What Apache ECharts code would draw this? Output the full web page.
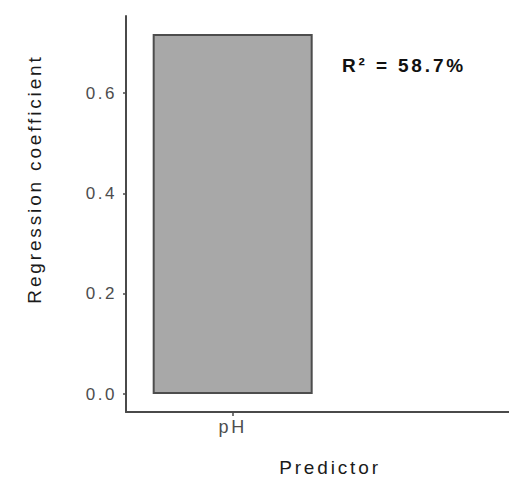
<!DOCTYPE html>
<html>
<head>
<meta charset="utf-8">
<script src="https://cdn.jsdelivr.net/npm/echarts@6/dist/echarts.min.js"></script>
<style>
  html, body { margin: 0; padding: 0; background: #ffffff; overflow: hidden; }
  #chart { width: 509px; height: 483px; }
  /* slightly airy lettering, as in the printed figure */
  #chart text { letter-spacing: 0.15em; }
</style>
</head>
<body>
<div id="chart"></div>
<script>
// Predictor categories and their regression coefficients
const categories = ['pH'];
const coefficients = [0.718];
// Y-axis tick values
const yTicks = [0, 0.2, 0.4, 0.6];
// Model fit annotation
const rSquaredLabel = 'R\u00B2 = 58.7%';
const xTitle = 'Predictor';
const yTitle = 'Regression coefficient';

// ggplot-style 5% padding around the data range
const dataMax = Math.max(...coefficients);
const pad = dataMax * 0.05;

// discrete positions 1..n on a continuous x scale; the panel runs past the
// right edge, so the scale ends well after the last category
const catPos = categories.map((_, i) => i + 1);
const xMin = 0.4;
const xMax = 2.554;
const barSeriesData = coefficients.map((v, i) => [catPos[i], v]);

const chart = echarts.init(document.getElementById('chart'), null, { renderer: 'svg' });

const font = '"Liberation Sans", Arial, Helvetica, sans-serif';

chart.setOption({
  animation: false,
  backgroundColor: '#ffffff',
  grid: { left: 126, top: 16, right: 0, height: 396, containLabel: false },
  xAxis: {
    type: 'value',
    min: xMin,
    max: xMax,
    axisLine: { show: true, onZero: false, lineStyle: { color: '#4a4a4a', width: 2 } },
    axisTick: {
      show: true,
      length: 4,
      customValues: catPos,
      lineStyle: { color: '#4a4a4a', width: 1.5 }
    },
    axisLabel: {
      customValues: catPos,
      margin: 6,
      fontFamily: font,
      fontSize: 18,
      color: '#4d4d4d',
      formatter: (v) => categories[Math.round(v) - 1] || ''
    },
    splitLine: { show: false }
  },
  yAxis: {
    type: 'value',
    min: -pad,
    max: dataMax + pad,
    axisLine: { show: true, onZero: false, lineStyle: { color: '#4a4a4a', width: 2 } },
    axisTick: {
      show: true,
      length: 3,
      customValues: yTicks,
      lineStyle: { color: '#4a4a4a', width: 1.5 }
    },
    axisLabel: {
      customValues: yTicks,
      margin: 9,
      fontFamily: font,
      fontSize: 17,
      color: '#4d4d4d',
      formatter: (v) => v.toFixed(1)
    },
    splitLine: { show: false }
  },
  series: [{
    type: 'bar',
    data: barSeriesData,
    barWidth: 160,
    itemStyle: {
      color: '#a8a8a8',
      borderColor: '#4d4d4d',
      borderWidth: 2
    }
  }],
  graphic: [
    {
      type: 'text',
      left: 342,
      top: 56,
      style: {
        text: rSquaredLabel,
        fontFamily: font,
        fontSize: 19,
        fontWeight: 'bold',
        fill: '#111111'
      }
    },
    {
      type: 'text',
      x: 330,
      y: 467,
      style: {
        text: xTitle,
        fontFamily: font,
        fontSize: 19,
        fill: '#1a1a1a',
        align: 'center',
        verticalAlign: 'middle'
      }
    },
    {
      type: 'text',
      x: 34,
      y: 179,
      rotation: Math.PI / 2,
      style: {
        text: yTitle,
        fontFamily: font,
        fontSize: 19,
        fill: '#1a1a1a',
        align: 'center',
        verticalAlign: 'middle'
      }
    }
  ]
});
</script>
</body>
</html>
